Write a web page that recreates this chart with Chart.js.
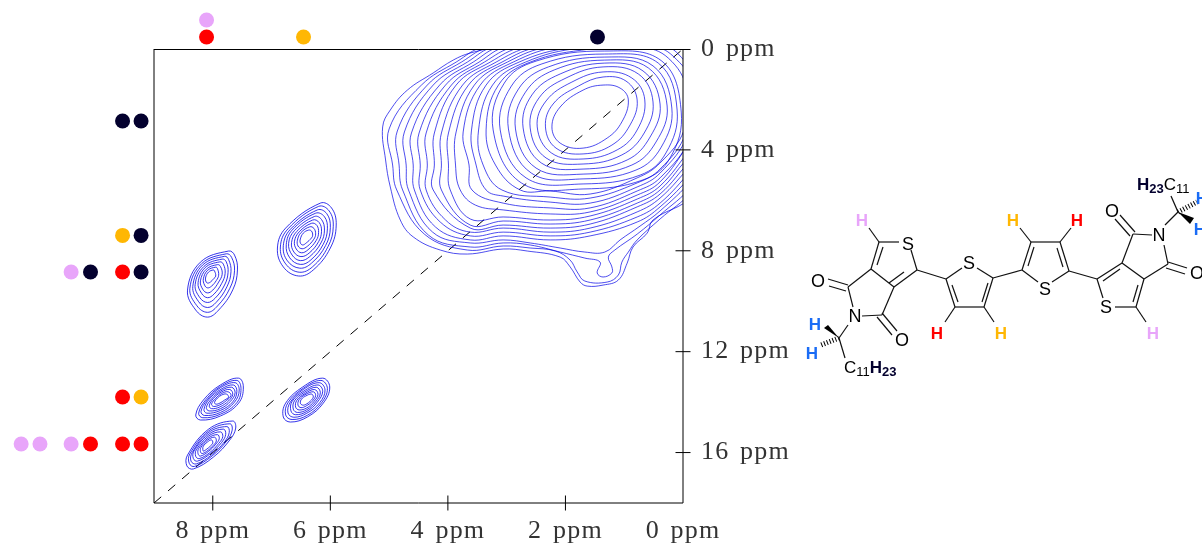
<!DOCTYPE html>
<html>
<head>
<meta charset="utf-8">
<title>NOESY map</title>
<script src="https://cdn.jsdelivr.net/npm/chart.js@4/dist/chart.umd.min.js"></script>
<style>
  html, body { margin: 0; padding: 0; background: #fff; }
  #wrap { position: relative; width: 1202px; height: 543px; overflow: hidden; }
  #chart { position: absolute; left: 0; top: 0; }
  #mol { position: absolute; left: 0; top: 0; }
  #mol text { font-family: "Liberation Sans", sans-serif; }
</style>
</head>
<body>
<div id="wrap">
  <canvas id="chart" width="1202" height="543"></canvas>
  <svg id="mol" width="1202" height="543" xmlns="http://www.w3.org/2000/svg"></svg>
</div>
<script>
// axes, ppm
const xTicks = [0, 2, 4, 6, 8];
const yTicks = [0, 4, 8, 12, 16];
const xMax = 9;
const yMax = 18;

// contours, flat x,y lists in ppm. Outer ones leave the frame and get clipped.
const bigPeak = [
  [2.23,3.09, 2.09,2.30, 1.70,1.63, 1.36,1.43, 1.07,1.55, .93,2.02, 1.04,2.89, 1.29,3.53, 1.70,3.93, 2.09,3.73],
  [2.34,3.09, 2.21,2.18, 1.78,1.47, 1.36,1.11, .97,1.27, .78,2.02, .90,3.01, 1.21,3.81, 1.70,4.16, 2.16,3.93],
  [2.48,3.09, 2.33,2.06, 1.89,1.31, 1.36,.91, .87,1.15, .65,2.02, .78,3.21, 1.12,4.00, 1.70,4.36, 2.24,4.12],
  [2.60,3.13, 2.45,1.94, 1.99,1.15, 1.36,.71, .76,.99, .51,2.10, .66,3.33, 1.04,4.20, 1.70,4.56, 2.33,4.32],
  [2.72,3.13, 2.57,1.82, 2.09,.99, 1.34,.56, .68,.87, .39,2.18, .56,3.49, .95,4.40, 1.70,4.76, 2.41,4.52],
  [2.85,3.17, 2.68,1.71, 2.19,.83, 1.34,.44, .59,.75, .27,2.26, .46,3.69, .87,4.60, 1.70,4.96, 2.50,4.72],
  [2.97,3.17, 2.80,1.59, 2.29,.71, 1.33,.32, .51,.67, .19,2.34, .37,3.89, .80,4.80, 1.70,5.15, 2.58,4.92],
  [3.11,3.21, 2.92,1.47, 2.40,.59, 1.33,.20, .42,.56, .10,2.42, .29,4.12, .73,5.00, 1.70,5.35, 2.67,5.11],
  [3.23,3.21, 3.04,1.35, 2.50,.48, 1.33,.08, .36,.48, .03,2.50, .22,4.32, .68,5.19, 1.70,5.55, 2.75,5.31],
  [3.35,3.21, 3.14,1.43, 2.60,.52, 1.58,0, .73,-.08, .25,.36, -.07,1.63, -.02,3.21, .39,4.52, .78,5.11, 1.58,5.75, 2.26,5.63, 2.77,5.59, 3.19,4.60],
  [3.48,3.25, 3.24,1.43, 2.68,.52, 1.75,-.04, .56,-.12, .17,.28, -.15,1.43, -.05,3.33, .39,4.76, .78,5.31, 1.58,5.91, 2.26,5.87, 3.08,5.59, 3.40,4.60],
  [3.60,3.25, 3.35,1.43, 2.79,.52, 1.92,-.04, .42,-.16, .08,.20, -.22,1.43, -.08,3.41, .39,4.92, .78,5.47, 1.58,6.11, 2.26,6.07, 3.06,5.83, 3.35,5.59, 3.52,4.60],
  [3.74,3.29, 3.45,1.43, 2.89,.52, 2.09,-.08, .25,-.20, -.05,.04, -.29,1.43, -.12,3.53, .39,5.11, .78,5.63, 1.58,6.30, 2.26,6.30, 3.06,6.11, 3.59,5.59, 3.64,4.60],
  [3.86,3.29, 3.55,1.43, 2.99,.52, 2.26,-.08, .08,-.28, -.29,.04, -.37,2.82, -.12,3.69, .39,5.27, .78,5.79, 1.58,6.46, 2.26,6.54, 3.06,6.38, 3.53,6.19, 3.79,5.59, 3.87,4.60],
  [3.99,3.33, 3.65,1.43, 3.08,.52, 2.43,-.08, .22,-.44, -.46,.04, -.42,3.21, -.12,4.00, .39,5.43, .78,5.95, 1.58,6.62, 2.26,6.78, 3.06,6.66, 3.62,6.74, 3.96,5.59, 3.99,4.60],
  [4.11,3.33, 3.75,1.43, 3.18,.52, 2.60,-.08, 1.4,-.5, -.7,-.4, -.8,3.2, -.15,4.20, .39,5.59, .78,6.11, 1.58,6.78, 2.26,6.94, 3.06,6.82, 3.62,6.98, 4.11,5.59, 4.11,4.60],
  [4.23,3.33, 3.86,1.43, 3.28,.52, 2.74,-.08, 1.4,-.5, -.7,-.4, -.8,3.2, -.15,4.40, .39,5.75, .78,6.26, 1.58,6.94, 2.26,7.10, 3.06,6.98, 3.62,7.10, 4.25,5.59, 4.23,4.60],
  [4.37,3.33, 3.94,1.43, 3.38,.52, 2.87,-.08, 1.4,-.5, -.7,-.4, -.8,3.2, -.15,4.60, .39,5.91, .78,6.46, 1.58,7.10, 2.26,7.26, 3.06,7.10, 3.62,7.26, 4.04,6.78, 4.37,5.59, 4.35,4.60],
  [4.49,3.33, 4.04,1.43, 3.47,.52, 3.01,-.08, 1.4,-.5, -.7,-.4, -.8,3.2, -.15,4.80, .39,6.11, .78,6.66, 1.58,7.26, 2.26,7.41, 3.06,7.26, 3.62,7.41, 4.13,6.86, 4.47,5.59, 4.47,4.60],
  [4.62,3.33, 4.14,1.43, 3.57,.52, 3.11,-.08, 1.4,-.5, -.7,-.4, -.8,3.2, -.15,5.00, .39,6.26, .78,6.86, 1.58,7.41, 2.26,7.57, 3.06,7.41, 3.62,7.57, 4.21,7.06, 4.57,5.59, 4.59,4.60],
  [4.74,3.29, 4.25,1.43, 3.67,.52, 3.21,-.08, 1.4,-.5, -.7,-.4, -.8,3.2, -.15,5.19, .39,6.42, .73,7.02, 1.07,7.57, 1.33,8.05, 1.67,8.05, 2.09,7.89, 2.60,7.69, 3.06,7.57, 3.62,7.69, 4.26,7.26, 4.67,5.59, 4.71,4.60],
  [4.86,3.25, 4.35,1.43, 3.77,.52, 3.28,-.08, 1.4,-.5, -.7,-.4, -.8,3.2, -.15,5.43, .39,6.58, .78,7.34, 1.16,7.97, 1.27,8.25, 1.21,8.64, 1.21,8.88, 1.36,9.04, 1.46,8.88, 1.41,8.45, 1.67,8.29, 2.09,8.05, 2.60,7.77, 3.06,7.69, 3.62,7.85, 4.33,7.38, 4.77,5.59, 4.83,4.60],
  [5.00,3.17, 4.45,1.43, 3.86,.52, 3.38,-.08, 1.4,-.5, -.7,-.4, -.8,3.2, -.15,5.63, .39,6.74, .78,7.57, .93,8.05, 1.04,8.45, 1.10,8.96, 1.29,9.24, 1.67,9.20, 1.80,8.84, 1.92,8.37, 2.17,8.01, 2.60,7.89, 3.06,7.81, 3.67,7.97, 4.40,7.34, 4.87,5.59, 4.94,4.60],
  [5.11,3.09, 4.98,2.42, 4.69,1.63, 4.25,.95, 3.91,.44, 3.62,.16, 3.11,-.08, 1.4,-.5, -.7,-.4, -.8,3.2, -.15,5.83, .51,6.78, .61,7.30, .85,7.85, .95,8.49, 1.10,9.16, 1.36,9.36, 1.63,9.40, 1.75,9.24, 1.92,8.64, 2.09,8.25, 2.65,8.01, 3.06,7.93, 3.67,8.13, 4.13,7.97, 4.59,7.45, 4.81,6.78, 4.98,5.47, 5.06,4.40]
];

const peakA = [
  [6.37,7.18, 6.32,7.22, 6.30,7.38, 6.32,7.49, 6.41,7.69, 6.47,7.77, 6.51,7.69, 6.51,7.53, 6.46,7.30],
  [6.35,7.05, 6.28,7.11, 6.25,7.33, 6.28,7.54, 6.39,7.82, 6.48,7.92, 6.55,7.81, 6.56,7.58, 6.50,7.28],
  [6.32,6.91, 6.23,6.99, 6.20,7.28, 6.24,7.59, 6.38,7.96, 6.49,8.08, 6.58,7.93, 6.61,7.62, 6.53,7.25],
  [6.30,6.78, 6.19,6.88, 6.15,7.23, 6.20,7.64, 6.36,8.09, 6.50,8.23, 6.62,8.05, 6.66,7.67, 6.57,7.23],
  [6.27,6.64, 6.15,6.76, 6.10,7.18, 6.16,7.69, 6.35,8.23, 6.51,8.39, 6.65,8.17, 6.71,7.71, 6.61,7.20],
  [6.25,6.51, 6.10,6.65, 6.05,7.13, 6.12,7.74, 6.33,8.36, 6.51,8.54, 6.69,8.28, 6.75,7.76, 6.65,7.18],
  [6.22,6.38, 6.06,6.53, 6.00,7.08, 6.08,7.79, 6.32,8.49, 6.52,8.69, 6.73,8.40, 6.80,7.80, 6.68,7.15],
  [6.20,6.24, 6.02,6.42, 5.95,7.03, 6.04,7.84, 6.30,8.63, 6.53,8.85, 6.76,8.52, 6.85,7.85, 6.72,7.13],
  [6.17,6.11, 5.98,6.30, 5.90,6.98, 6.00,7.89, 6.29,8.76, 6.54,9.00, 6.80,8.64, 6.90,7.89, 6.76,7.10]
];

const peakB = [
  [7.99,8.76, 7.97,8.80, 7.95,9.00, 7.99,9.12, 8.04,9.24, 8.09,9.28, 8.12,9.20, 8.12,9.04, 8.07,8.84],
  [7.95,8.65, 7.92,8.71, 7.90,8.97, 7.94,9.18, 8.02,9.40, 8.09,9.47, 8.14,9.36, 8.16,9.11, 8.09,8.78],
  [7.92,8.55, 7.87,8.62, 7.84,8.93, 7.90,9.24, 8.00,9.56, 8.09,9.67, 8.17,9.53, 8.21,9.19, 8.11,8.73],
  [7.88,8.44, 7.82,8.53, 7.79,8.90, 7.85,9.30, 7.98,9.72, 8.09,9.86, 8.19,9.69, 8.25,9.26, 8.13,8.67],
  [7.84,8.33, 7.77,8.44, 7.74,8.86, 7.80,9.36, 7.96,9.88, 8.09,10.05, 8.22,9.86, 8.30,9.34, 8.15,8.62],
  [7.80,8.22, 7.73,8.35, 7.69,8.83, 7.76,9.43, 7.94,10.04, 8.09,10.25, 8.24,10.02, 8.34,9.41, 8.17,8.56],
  [7.77,8.12, 7.68,8.26, 7.63,8.79, 7.71,9.49, 7.92,10.19, 8.09,10.44, 8.27,10.18, 8.39,9.49, 8.19,8.51],
  [7.73,8.01, 7.63,8.17, 7.58,8.76, 7.66,9.55, 7.90,10.35, 8.09,10.63, 8.29,10.35, 8.43,9.56, 8.21,8.45]
];

const peakC = [
  [7.77,13.68, 7.73,13.80, 7.80,13.92, 7.88,14.04, 7.95,14.08, 7.97,14.00, 7.92,13.84, 7.85,13.72],
  [7.74,13.59, 7.69,13.74, 7.77,13.94, 7.88,14.11, 7.99,14.17, 8.02,14.07, 7.95,13.85, 7.85,13.66],
  [7.71,13.50, 7.66,13.69, 7.73,13.95, 7.88,14.19, 8.02,14.26, 8.06,14.15, 7.99,13.86, 7.86,13.61],
  [7.68,13.41, 7.62,13.63, 7.70,13.97, 7.87,14.26, 8.06,14.35, 8.11,14.22, 8.02,13.87, 7.86,13.55],
  [7.65,13.32, 7.59,13.57, 7.66,13.99, 7.87,14.33, 8.10,14.44, 8.15,14.29, 8.06,13.88, 7.86,13.49],
  [7.62,13.23, 7.55,13.52, 7.63,14.00, 7.87,14.41, 8.14,14.53, 8.20,14.37, 8.09,13.90, 7.87,13.43],
  [7.59,13.14, 7.52,13.46, 7.59,14.02, 7.87,14.48, 8.17,14.62, 8.24,14.44, 8.12,13.91, 7.87,13.38],
  [7.56,13.05, 7.48,13.40, 7.56,14.04, 7.87,14.55, 8.21,14.71, 8.29,14.51, 8.16,13.92, 7.87,13.32]
];

const peakD = [
  [6.32,13.68, 6.29,13.80, 6.34,13.96, 6.41,14.08, 6.47,14.12, 6.51,14.04, 6.49,13.88, 6.42,13.76],
  [6.29,13.59, 6.25,13.74, 6.31,13.97, 6.41,14.15, 6.50,14.22, 6.55,14.12, 6.53,13.90, 6.43,13.71],
  [6.27,13.50, 6.21,13.69, 6.28,13.98, 6.40,14.23, 6.53,14.31, 6.59,14.20, 6.57,13.93, 6.43,13.66],
  [6.24,13.41, 6.17,13.63, 6.25,13.99, 6.40,14.30, 6.56,14.41, 6.63,14.28, 6.61,13.95, 6.44,13.61],
  [6.21,13.32, 6.13,13.57, 6.22,14.00, 6.40,14.37, 6.59,14.50, 6.67,14.35, 6.65,13.97, 6.45,13.56],
  [6.19,13.23, 6.09,13.52, 6.18,14.02, 6.40,14.44, 6.62,14.60, 6.72,14.43, 6.68,14.00, 6.46,13.50],
  [6.16,13.14, 6.05,13.46, 6.15,14.03, 6.39,14.52, 6.65,14.69, 6.76,14.51, 6.72,14.02, 6.46,13.45],
  [6.13,13.05, 6.01,13.40, 6.12,14.04, 6.39,14.59, 6.68,14.79, 6.80,14.59, 6.76,14.04, 6.47,13.40]
];

const peakE = [
  [8.02,15.50, 8.00,15.62, 8.04,15.74, 8.10,15.86, 8.16,15.94, 8.17,15.86, 8.16,15.74, 8.09,15.58],
  [7.97,15.39, 7.94,15.54, 7.99,15.71, 8.08,15.91, 8.18,16.04, 8.21,15.96, 8.20,15.79, 8.09,15.51],
  [7.92,15.29, 7.89,15.45, 7.95,15.67, 8.07,15.95, 8.21,16.14, 8.25,16.05, 8.24,15.84, 8.08,15.43],
  [7.87,15.18, 7.83,15.37, 7.90,15.64, 8.05,16.00, 8.23,16.24, 8.29,16.15, 8.28,15.89, 8.08,15.36],
  [7.82,15.07, 7.78,15.28, 7.85,15.60, 8.04,16.04, 8.26,16.34, 8.33,16.24, 8.32,15.94, 8.08,15.29],
  [7.76,14.97, 7.72,15.20, 7.80,15.57, 8.02,16.09, 8.28,16.45, 8.37,16.34, 8.35,16.00, 8.08,15.22],
  [7.71,14.86, 7.67,15.11, 7.76,15.53, 8.01,16.13, 8.31,16.55, 8.40,16.43, 8.39,16.05, 8.07,15.14],
  [7.66,14.75, 7.61,15.03, 7.71,15.50, 7.99,16.18, 8.33,16.65, 8.44,16.53, 8.43,16.10, 8.07,15.07]
];

// assignment dots around the frame
const redX = [8.106, 9.535, 9.535, 10.08, 9.535, 9.22];
const redY = [-0.476, 8.84, 13.80, 15.66, 15.66, 15.66];
const pinkX = [8.106, 10.41, 11.26, 10.94, 10.41];
const pinkY = [-1.15, 8.84, 15.66, 15.66, 15.66];
const amberX = [6.456, 9.535, 9.22];
const amberY = [-0.476, 7.39, 13.80];
const navyX = [1.455, 9.535, 9.22, 9.22, 10.08, 9.22];
const navyY = [-0.476, 2.855, 2.855, 7.39, 8.84, 8.84];

const RED = "#ff0000", PINK = "#e8a5fa", AMBER = "#ffb703", NAVY = "#03002e", BLUE = "#1a6cf5";

// wrap round by one point each side so the spline has no kink where the ring closes
function ring(flat) {
  const pts = [];
  for (let i = 0; i < flat.length; i += 2) pts.push({ x: flat[i], y: flat[i + 1] });
  return [pts[pts.length - 1]].concat(pts, [pts[0], pts[1]]);
}

function zip(xs, ys) {
  return xs.map((x, i) => ({ x: x, y: ys[i] }));
}

const datasets = [];
[bigPeak, peakA, peakB, peakC, peakD, peakE].forEach(function (group) {
  group.forEach(function (flat) {
    const data = ring(flat);
    datasets.push({
      data: data,
      showLine: true,
      borderColor: "#0000e6",
      borderWidth: group === bigPeak ? 0.7 : 0.8,
      tension: 0.4,
      pointRadius: 0,
      capBezierPoints: false,
      // the two wrapped segments would draw twice
      segment: {
        borderColor: c => (c.p0DataIndex === 0 || c.p1DataIndex === data.length - 1) ? "rgba(0,0,0,0)" : undefined
      }
    });
  });
});
datasets.push({
  data: [{ x: xMax, y: yMax }, { x: 0, y: 0 }],
  showLine: true,
  borderColor: "#000",
  borderWidth: 1,
  borderDash: [9.5, 9],
  pointRadius: 0
});
[[redX, redY, RED], [pinkX, pinkY, PINK], [amberX, amberY, AMBER], [navyX, navyY, NAVY]].forEach(function (d) {
  datasets.push({
    data: zip(d[0], d[1]),
    showLine: false,
    clip: false,
    isDots: true,
    pointRadius: 7.5,
    pointBorderWidth: 0,
    pointBackgroundColor: d[2]
  });
});

// frame and ticks straddle the axes, dots sit outside the plot area
const framePlugin = {
  id: "frame",
  beforeDraw(chart) {
    chart.ctx.letterSpacing = "1.2px";
    chart.ctx.wordSpacing = "3px";
  },
  afterDatasetsDraw(chart) {
    const ctx = chart.ctx, a = chart.chartArea;
    ctx.save();
    ctx.strokeStyle = "#000";
    ctx.lineWidth = 1;
    ctx.beginPath();
    ctx.moveTo(a.left, a.bottom); ctx.lineTo(a.left, a.top);
    ctx.moveTo(a.left, a.top + 0.5); ctx.lineTo(a.right, a.top + 0.5);
    ctx.moveTo(a.right, a.top); ctx.lineTo(a.right, a.bottom);
    ctx.moveTo(a.left, a.bottom); ctx.lineTo(a.right, a.bottom);
    xTicks.forEach(function (v) {
      if (v === 0) return;
      const px = chart.scales.x.getPixelForValue(v);
      ctx.moveTo(px, a.bottom - 7.5); ctx.lineTo(px, a.bottom + 7.5);
    });
    yTicks.forEach(function (v) {
      const py = chart.scales.y.getPixelForValue(v);
      ctx.moveTo(a.right - 7.5, py + (v === 0 ? 0.5 : 0)); ctx.lineTo(a.right + 7.5, py + (v === 0 ? 0.5 : 0));
    });
    ctx.stroke();
    ctx.restore();
    chart.data.datasets.forEach(function (ds, i) {
      if (!ds.isDots) return;
      chart.getDatasetMeta(i).data.forEach(function (pt) { pt.draw(ctx); });
    });
  }
};

const tickFont = { family: '"Liberation Serif", serif', size: 26 };

new Chart(document.getElementById("chart").getContext("2d"), {
  type: "scatter",
  data: { datasets: datasets },
  plugins: [framePlugin],
  options: {
    responsive: false,
    animation: false,
    layout: { padding: { left: 154, top: 49, right: 0, bottom: 0 } },
    plugins: { legend: { display: false }, tooltip: { enabled: false } },
    scales: {
      x: {
        type: "linear",
        reverse: true,
        min: 0,
        max: xMax,
        grid: { display: false },
        border: { display: false },
        afterBuildTicks(scale) { scale.ticks = xTicks.map(v => ({ value: v })); },
        afterFit(scale) { scale.height = 40; },
        ticks: {
          font: tickFont,
          color: "#333",
          padding: 5,
          maxRotation: 0,
          autoSkip: false,
          callback: v => v + " ppm"
        }
      },
      y: {
        type: "linear",
        position: "right",
        reverse: true,
        min: 0,
        max: yMax,
        grid: { display: false },
        border: { display: false },
        afterBuildTicks(scale) { scale.ticks = yTicks.map(v => ({ value: v })); },
        afterFit(scale) { scale.width = 519; },
        ticks: {
          font: tickFont,
          color: "#333",
          padding: 10,
          autoSkip: false,
          callback: v => v + " ppm"
        }
      }
    }
  }
});

// molecule beside the map, page pixels
const bonds = [
  [879,242,899,242],[911,250,917,270],[917,270,894,287],[904,272,889,283],[894,287,871,269],[871,269,879,242],[877,265,883,247],
  [879,242,869,228],[871,269,848,287],[848,287,853,307],[862,316,882,315],[882,315,894,287],
  [848,285,828,279],[846,291,829,286],[882,313,897,331],[877,317,892,335],
  [848,325,839,338],[839,338,845,358],[917,270,946,279],
  [946,279,962,268],[977,268,993,278],[993,278,984,307],[984,307,955,307],[955,307,946,279],[952,285,958,302],[988,283,982,302],
  [955,307,945,322],[984,307,994,322],[993,278,1022,270],
  [1022,270,1038,282],[1052,282,1069,271],[1069,271,1060,242],[1060,242,1031,242],[1031,242,1022,270],[1028,266,1034,247],[1063,267,1057,248],
  [1031,242,1020,228],[1060,242,1071,228],[1069,271,1097,279],
  [1097,279,1122,263],[1103,281,1120,269],[1122,263,1144,279],[1144,279,1136,307],[1138,285,1133,302],[1136,307,1115,307],[1097,279,1103,298],
  [1136,307,1146,322],[1122,263,1133,234],[1133,234,1152,235],[1164,245,1168,264],[1168,264,1144,279],
  [1135,232,1120,215],[1130,236,1115,219],[1168,262,1187,268],[1166,268,1185,274],
  [1165,225,1178,212],[1178,212,1171,196]
];
const wedges = [[839,338,824,328,828,325],[1178,212,1194,218,1190,224]];
const hashes = [[839,338,821,345],[1178,212,1197,202]];
const atoms = [
  ["S",908,250,18,"#000","normal"],["O",818,287,18,"#000","normal"],["O",902,346,18,"#000","normal"],["N",855,322,18,"#000","normal"],
  ["S",969,269,18,"#000","normal"],["S",1045,295,18,"#000","normal"],["S",1106,313,18,"#000","normal"],
  ["O",1112,217,18,"#000","normal"],["O",1197,279,18,"#000","normal"],["N",1159,241,18,"#000","normal"],
  ["H",862,226,17,PINK,"bold"],["H",937,339,17,RED,"bold"],["H",1001,339,17,AMBER,"bold"],
  ["H",1013,226,17,AMBER,"bold"],["H",1077,226,17,RED,"bold"],["H",1153,339,17,PINK,"bold"],
  ["H",815,330,17,BLUE,"bold"],["H",812,359,17,BLUE,"bold"],["H",1202,204,17,BLUE,"bold"],["H",1200,235,17,BLUE,"bold"]
];

const svg = document.getElementById("mol");
const NS = "http://www.w3.org/2000/svg";
function add(tag, attrs, txt) {
  const el = document.createElementNS(NS, tag);
  Object.keys(attrs).forEach(k => el.setAttribute(k, attrs[k]));
  if (txt) el.textContent = txt;
  svg.appendChild(el);
  return el;
}
bonds.forEach(b => add("line", { x1: b[0], y1: b[1], x2: b[2], y2: b[3], stroke: "#111", "stroke-width": 1.2 }));
wedges.forEach(w => add("polygon", { points: w[0] + "," + w[1] + " " + w[2] + "," + w[3] + " " + w[4] + "," + w[5], fill: "#000" }));
hashes.forEach(h => add("line", { x1: h[0], y1: h[1], x2: h[2], y2: h[3], stroke: "#000", "stroke-width": 5, "stroke-dasharray": "1 2" }));
atoms.forEach(a => add("text", { x: a[1], y: a[2], "font-size": a[3], fill: a[4], "font-weight": a[5], "text-anchor": "middle" }, a[0]));

// chain labels, carbon part regular, hydrogen part navy bold
function chain(x, y, parts) {
  const t = add("text", { x: x, y: y });
  parts.forEach(function (p) {
    const s = document.createElementNS(NS, "tspan");
    s.setAttribute("font-size", p[1]);
    s.setAttribute("fill", p[2]);
    s.setAttribute("font-weight", p[3]);
    s.setAttribute("dy", p[4]);
    s.textContent = p[0];
    t.appendChild(s);
  });
}
chain(844, 373, [["C",17,"#000","normal",0],["11",13,"#000","normal",3],["H",17,NAVY,"bold",-3],["23",13,NAVY,"bold",3]]);
chain(1137, 190, [["H",17,NAVY,"bold",0],["23",13,NAVY,"bold",3],["C",17,"#000","normal",-3],["11",13,"#000","normal",3]]);
</script>
</body>
</html>
